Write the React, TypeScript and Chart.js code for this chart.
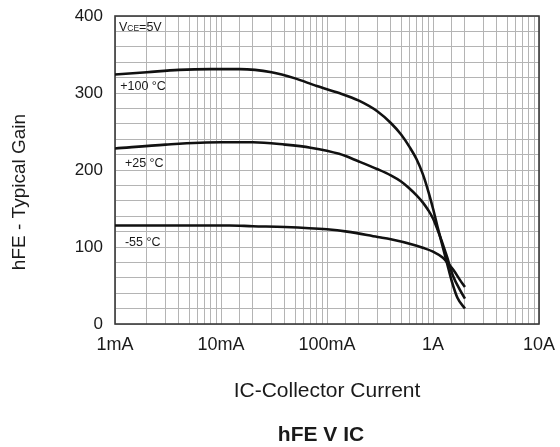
import React, { useEffect, useRef } from "react";
import { Chart, registerables } from "chart.js";

Chart.register(...registerables);

// Collector current (A) and typical gain values per temperature
const icPlus100 = [0.001, 0.002, 0.004, 0.008, 0.015, 0.03, 0.05, 0.08, 0.13, 0.2, 0.3, 0.4, 0.5, 0.6, 0.7, 0.8, 0.9, 1.0, 1.1, 1.2, 1.35, 1.5, 1.7, 2.0];
const hfePlus100 = [324, 327, 330, 331, 331, 327, 319, 309, 300, 290, 276, 261, 246, 230, 214, 195, 173, 150, 127, 107, 80, 56, 34, 20];

const icPlus25 = [0.001, 0.003, 0.01, 0.02, 0.04, 0.07, 0.13, 0.2, 0.3, 0.4, 0.5, 0.6, 0.7, 0.8, 0.9, 1.0, 1.1, 1.2, 1.35, 1.55, 1.8, 2.0];
const hfePlus25 = [228, 233, 236, 236, 233, 229, 221, 211, 201, 193, 185, 176, 167, 158, 148, 137, 123, 109, 88, 62, 44, 33];

const icMinus55 = [0.001, 0.012, 0.02, 0.04, 0.1, 0.155, 0.3, 0.4, 0.65, 0.8, 1.0, 1.24, 1.4, 1.56, 1.8, 2.0];
const hfeMinus55 = [128, 128, 127, 126, 123, 120, 113, 110, 103, 99, 94, 86, 78, 70, 57, 48];

// Curve labels placed in data coordinates
const curveLabels = ["+100 °C", "+25 °C", "-55 °C"];
const curveLabelIc = [0.00112, 0.00124, 0.00124];
const curveLabelHfe = [308, 209, 106];

// Condition label
const condIc = 0.00109;
const condHfe = 387;

// Axis ticks
const xTickValues = [0.001, 0.01, 0.1, 1, 10];
const xTickLabels = ["1mA", "10mA", "100mA", "1A", "10A"];
const yMin = 0;
const yMax = 400;
const yGridStep = 20;
const yLabelStep = 100;

const xTitle = "IC-Collector Current";
const yTitle = "hFE - Typical Gain";
const chartTitle = "hFE V IC";

const FONT = "'Liberation Sans', Arial, Helvetica, sans-serif";

function toPoints(xs: number[], ys: number[]) {
  return xs.map((x, i) => ({ x, y: ys[i] }));
}

const decorPlugin = {
  id: "decor",
  beforeDatasetsDraw(chart: any) {
    const { ctx, chartArea } = chart;
    ctx.save();
    ctx.strokeStyle = "#3a3a3a";
    ctx.lineWidth = 1.6;
    ctx.strokeRect(chartArea.left, chartArea.top, chartArea.right - chartArea.left, chartArea.bottom - chartArea.top);
    ctx.restore();
  },
  afterDatasetsDraw(chart: any) {
    const { ctx, chartArea, scales } = chart;
    const xs = scales.x;
    const ys = scales.y;
    ctx.save();
    ctx.fillStyle = "#1a1a1a";
    ctx.textBaseline = "middle";
    ctx.textAlign = "left";
    ctx.font = `12.5px ${FONT}`;
    curveLabels.forEach((t, i) => {
      ctx.fillText(t, xs.getPixelForValue(curveLabelIc[i]), ys.getPixelForValue(curveLabelHfe[i]));
    });
    // VCE=5V with small subscript letters
    let cx = xs.getPixelForValue(condIc);
    const cy = ys.getPixelForValue(condHfe);
    ctx.textBaseline = "alphabetic";
    const base = cy + 4.5;
    ctx.font = `12.5px ${FONT}`;
    ctx.fillText("V", cx, base);
    cx += ctx.measureText("V").width;
    ctx.font = `8.5px ${FONT}`;
    ctx.fillText("CE", cx, base);
    cx += ctx.measureText("CE").width;
    ctx.font = `12.5px ${FONT}`;
    ctx.fillText("=5V", cx, base);

    // axis titles
    ctx.textAlign = "center";
    ctx.textBaseline = "middle";
    ctx.font = `21px ${FONT}`;
    ctx.fillText(xTitle, (chartArea.left + chartArea.right) / 2, 391);
    ctx.font = `bold 21px ${FONT}`;
    ctx.fillText(chartTitle, 321, 435);
    ctx.save();
    ctx.translate(20, 192);
    ctx.rotate(-Math.PI / 2);
    ctx.font = `19px ${FONT}`;
    ctx.fillText(yTitle, 0, 0);
    ctx.restore();
    ctx.restore();
  },
};

function isDecade(v: number) {
  const l = Math.log10(v);
  return Math.abs(l - Math.round(l)) < 1e-6;
}

export default function App() {
  const ref = useRef<HTMLCanvasElement | null>(null);
  useEffect(() => {
    if (!ref.current) return;
    const lineStyle = {
      borderColor: "#111",
      borderWidth: 2.6,
      pointRadius: 0,
      fill: false,
      cubicInterpolationMode: "monotone" as const,
    };
    const chart = new Chart(ref.current, {
      type: "line",
      data: {
        datasets: [
          { label: curveLabels[0], data: toPoints(icPlus100, hfePlus100), ...lineStyle },
          { label: curveLabels[1], data: toPoints(icPlus25, hfePlus25), ...lineStyle },
          { label: curveLabels[2], data: toPoints(icMinus55, hfeMinus55), ...lineStyle },
        ],
      },
      options: {
        animation: false,
        responsive: false,
        devicePixelRatio: 1,
        layout: { padding: { left: 0, right: 21, top: 16, bottom: 0 } },
        plugins: { legend: { display: false }, tooltip: { enabled: false }, title: { display: false } },
        scales: {
          x: {
            type: "logarithmic",
            min: 0.001,
            max: 10,
            afterFit: (s: any) => {
              s.height = 123;
              s.paddingLeft = 0;
              s.paddingRight = 0;
            },
            grid: { color: "#b4b4b4", lineWidth: 1, drawTicks: false },
            border: { display: false },
            ticks: {
              autoSkip: false,
              maxRotation: 0,
              minRotation: 0,
              padding: 10,
              color: "#1a1a1a",
              font: { family: FONT, size: 18 },
              callback: (v: any) => {
                const n = Number(v);
                if (!isDecade(n)) return "";
                const idx = xTickValues.findIndex((t) => Math.abs(Math.log10(t) - Math.log10(n)) < 1e-6);
                return idx >= 0 ? xTickLabels[idx] : "";
              },
            },
          },
          y: {
            type: "linear",
            min: yMin,
            max: yMax,
            afterFit: (s: any) => {
              s.width = 115;
              s.paddingTop = 0;
              s.paddingBottom = 0;
            },
            grid: { color: "#b4b4b4", lineWidth: 1, drawTicks: false },
            border: { display: false },
            ticks: {
              stepSize: yGridStep,
              autoSkip: false,
              padding: 12,
              color: "#1a1a1a",
              font: { family: FONT, size: 17 },
              callback: (v: any) => (Number(v) % yLabelStep === 0 ? String(v) : ""),
            },
          },
        },
      },
      plugins: [decorPlugin],
    });
    return () => chart.destroy();
  }, []);
  return (
    <div style={{ position: "absolute", left: 0, top: 0, width: 560, height: 447, background: "#fff" }}>
      <canvas ref={ref} width={560} height={447} style={{ display: "block" }} />
    </div>
  );
}
